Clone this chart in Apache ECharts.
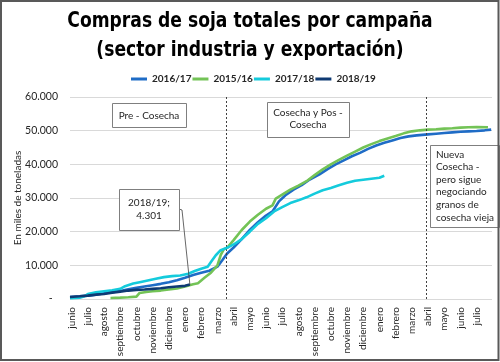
<!DOCTYPE html>
<html>
<head>
<meta charset="utf-8">
<script src="https://cdn.jsdelivr.net/npm/echarts@6/dist/echarts.min.js"></script>
<style>html,body{margin:0;padding:0;background:#fff}#c{width:500px;height:362px}</style>
</head>
<body>
<div id="c"></div>
<script>
const months = ['junio','julio','agosto','septiembre','octubre','noviembre','diciembre','enero','febrero','marzo','abril','mayo','junio','julio','agosto','septiembre','octubre','noviembre','diciembre','enero','febrero','marzo','abril','mayo','junio','julio'];
const yTicks = [0, 10000, 20000, 30000, 40000, 50000, 60000];
const seriesNames = ['2016/17', '2015/16', '2017/18', '2018/19'];
const titleLines = ['Compras de soja totales por campaña', '(sector industria y exportación)'];

// x = months since first "junio" label
const t1617 = [-0.1,0.5,1,1.5,2,2.5,3,3.5,4,4.5,5,5.5,6,6.5,7,7.5,8,8.5,9,9.3,9.6,10,10.5,11,11.5,12,12.4,12.8,13.2,13.7,14.2,14.7,15.3,15.8,16.3,16.8,17.3,17.8,18.3,18.8,19.3,19.8,20.3,20.8,21.3,22,22.5,23,23.5,24,24.5,25,25.5,25.9];
const v1617 = [600,800,1000,1300,1700,2000,2400,2900,3300,3700,4100,4500,5000,5600,6300,7100,7800,8400,9600,11500,13500,15300,17800,20500,22800,24800,26000,29000,30800,32500,33800,35500,37000,38600,40000,41200,42400,43400,44600,45600,46400,47100,47800,48300,48600,48900,49100,49300,49500,49700,49800,49900,50100,50300];

const t1516 = [2.4,3,3.5,4,4.2,4.6,5,5.5,6,6.5,7,7.5,7.8,8.2,8.6,9,9.2,9.4,9.6,10,10.5,11,11.5,12,12.4,12.6,13,13.5,14,14.5,15,15.5,16,16.5,17,17.5,18,18.5,19,19.5,20,20.5,21,21.5,22,22.5,23,23.5,24,24.5,25,25.7];
const v1516 = [300,400,500,700,1800,2100,2300,2500,2800,3100,3700,4400,4700,6300,7800,10000,13000,14800,15200,17500,20500,23000,25000,26800,27800,29800,31000,32500,33700,35000,36800,38500,40000,41300,42600,43800,45000,46000,46900,47700,48400,49200,49800,50100,50300,50400,50600,50700,50900,51000,51100,51000];

const t1718 = [-0.1,0.5,0.8,1,1.5,2,2.5,3,3.3,3.8,4.2,4.7,5.2,5.7,6.2,6.7,7.2,7.6,8,8.4,8.6,8.9,9.2,9.6,10,10.5,11,11.5,12,12.5,13,13.5,14,14.5,15,15.5,16,16.5,17,17.5,18,18.5,19,19.3];
const v1718 = [200,400,800,1500,2000,2300,2600,3000,3800,4600,5000,5500,6000,6500,6800,7000,7500,8300,9000,9600,11000,13000,14500,15200,16200,17800,20000,22300,24000,26000,27300,28500,29300,30200,31300,32300,33000,33800,34500,35100,35400,35700,36000,36600];

const t1819 = [-0.1,0.5,1,1.5,2,2.5,3,3.5,4,4.5,5,5.5,6,6.5,7,7.3];
const v1819 = [600,800,1000,1300,1500,1900,2200,2500,2700,2800,3000,3200,3500,3700,3900,4301];

const phaseLines = [9.57, 21.92];

const colors = ['#1f6cc6', '#73c356', '#14cbdc', '#0f3a73'];
const seriesT = [t1617, t1516, t1718, t1819];
const seriesV = [v1617, v1516, v1718, v1819];

function fmt(v) {
  if (v === 0) return '-  ';
  const s = String(Math.round(v));
  return s.replace(/\B(?=(\d{3})+(?!\d))/g, '.');
}

const chart = echarts.init(document.getElementById('c'), null, {renderer: 'canvas'});
const FONT = 'Lato, "Liberation Sans", sans-serif';

const series = seriesNames.map((n, k) => ({
  name: n,
  type: 'line',
  data: seriesT[k].map((t, i) => [t, seriesV[k][i]]),
  symbol: 'none',
  lineStyle: {width: 2.6, color: colors[k]},
  itemStyle: {color: colors[k]},
  z: 3 + k,
  markLine: k === 0 ? {
    silent: true, symbol: 'none', label: {show: false},
    lineStyle: {color: '#404040', width: 1, type: [2, 2]},
    data: phaseLines.map(x => ({xAxis: x}))
  } : undefined
}));

chart.setOption({
  animation: false,
  legend: {
    data: seriesNames, left: 126, top: 69, itemWidth: 16, itemHeight: 3, itemGap: 1, icon: 'rect',
    textStyle: {fontFamily: FONT, fontWeight: 'bold', fontSize: 10, color: '#262626'}
  },
  grid: {left: 70, right: 8, top: 97, height: 202},
  xAxis: {
    type: 'value', min: -0.1, max: 25.95,
    axisLine: {show: false}, axisTick: {show: false}, splitLine: {show: false},
    axisLabel: {
      customValues: months.map((m, i) => i),
      formatter: v => months[Math.round(v)] || '',
      rotate: 90, margin: 8, fontFamily: FONT, fontSize: 10, color: '#262626'
    }
  },
  yAxis: {
    type: 'value', min: yTicks[0], max: yTicks[yTicks.length - 1], interval: 10000,
    name: 'En miles de toneladas', nameLocation: 'middle', nameGap: 47, nameMoveOverlap: false,
    nameTextStyle: {fontFamily: FONT, fontSize: 10, color: '#262626'},
    axisLine: {show: false}, axisTick: {show: false},
    splitLine: {lineStyle: {color: '#d9d9d9', width: 1}},
    axisLabel: {formatter: fmt, margin: 12, fontFamily: FONT, fontSize: 10.5, color: '#262626'}
  },
  series: series
});

const last = [t1819[t1819.length - 1], v1819[v1819.length - 1]];
const p = chart.convertToPixel({xAxisIndex: 0, yAxisIndex: 0}, last);
const boxStyle = {fill: '#fff', stroke: '#7f7f7f', lineWidth: 1};
const txt = {font: '10px ' + FONT, fill: '#262626'};
const titleFont = 'bold 22px "DejaVu Sans", sans-serif';

chart.setOption({
  graphic: [
    {type: 'text', x: 250, y: 21, scaleX: 0.78, style: {text: titleLines[0], align: 'center', verticalAlign: 'middle', font: titleFont, fill: '#000'}, z: 21},
    {type: 'text', x: 250, y: 50, scaleX: 0.78, style: {text: titleLines[1], align: 'center', verticalAlign: 'middle', font: titleFont, fill: '#000'}, z: 21},
    {type: 'rect', shape: {x: 112.5, y: 103.5, width: 74, height: 24}, style: boxStyle, z: 20},
    {type: 'text', x: 149, y: 115.5, style: Object.assign({text: 'Pre - Cosecha', align: 'center', verticalAlign: 'middle'}, txt), z: 21},
    {type: 'rect', shape: {x: 267.5, y: 102.5, width: 82, height: 35}, style: boxStyle, z: 20},
    {type: 'text', x: 308, y: 106, style: Object.assign({text: 'Cosecha y Pos -\nCosecha', align: 'center', verticalAlign: 'top', lineHeight: 12.7}, txt), z: 21},
    {type: 'rect', shape: {x: 430.5, y: 145.5, width: 69, height: 82}, style: boxStyle, z: 20},
    {type: 'text', x: 436, y: 148, style: Object.assign({text: 'Nueva\nCosecha -\npero sigue\nnegociando\ngranos de\ncosecha vieja', align: 'left', verticalAlign: 'top', lineHeight: 12.6}, txt), z: 21},
    {type: 'polyline', shape: {points: [[179, 209], [182, 210], [p[0], p[1]]]}, style: {stroke: '#404040', lineWidth: 0.8, fill: null}, z: 19},
    {type: 'rect', shape: {x: 119.5, y: 189.5, width: 60, height: 41}, style: boxStyle, z: 20},
    {type: 'text', x: 149, y: 196, style: Object.assign({text: seriesNames[3] + ';\n' + fmt(last[1]), align: 'center', verticalAlign: 'top', lineHeight: 13}, txt), z: 21},
    {type: 'rect', shape: {x: 1, y: 1, width: 497.5, height: 359}, style: {fill: null, stroke: '#595959', lineWidth: 2}, z: 30, silent: true}
  ]
});
</script>
</body>
</html>
